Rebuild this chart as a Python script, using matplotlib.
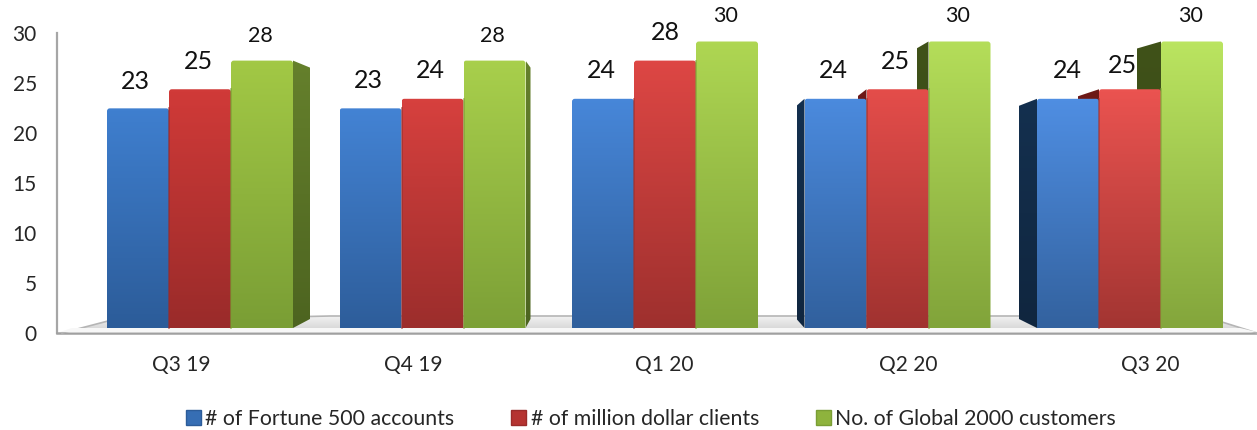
import numpy as np
import matplotlib
matplotlib.use('Agg')
from matplotlib import pyplot as plt
from matplotlib.colors import LinearSegmentedColormap, to_rgb
from matplotlib.patches import FancyBboxPatch, Polygon, Patch

plt.rcParams['font.family'] = ['Lato', 'DejaVu Sans']

# values per quarter
quarters = ['Q3 19', 'Q4 19', 'Q1 20', 'Q2 20', 'Q3 20']
fortune_500 = [23, 23, 24, 24, 24]
million_dollar = [25, 24, 28, 25, 25]
global_2000 = [28, 28, 30, 30, 30]
series_names = ['# of Fortune 500 accounts', '# of million dollar clients',
                'No. of Global 2000 customers']

W, H = 1257, 430
SX, SY = 232.5, 9.55  # pixels per group, pixels per unit
fig = plt.figure(figsize=(W / 100, H / 100), dpi=100)


# pixel position -> data position of the bar axes
def px_x(p):
    return (p - 200) / SX


def px_y(p):
    return (328 - p) / SY


# axis frame with the tick labels, behind the bars
ax_frame = fig.add_axes([57 / W, (H - 333) / H, 1 - 57 / W, 300 / H])
ax_frame.set_xlim(57, W)
ax_frame.set_ylim(0, 30)
ax_frame.set_facecolor('none')
for s in ['top', 'right', 'bottom', 'left']:
    ax_frame.spines[s].set_visible(False)
ax_frame.plot([57, 57], [0, 30], color='#a6a6a6', lw=1.6, clip_on=False)
ax_frame.plot([57, W], [0, 0], color='#a0a0a0', lw=1.8, clip_on=False)
ax_frame.set_yticks(range(0, 31, 5))
ax_frame.tick_params(axis='y', length=0, pad=14.5, labelsize=15, labelcolor='#262626')
ax_frame.set_xticks([181, 413, 664, 908, 1150], quarters)
ax_frame.tick_params(axis='x', length=0, pad=16, labelsize=15, labelcolor='#262626')

# bars live in an axes that spans the whole figure
ax = fig.add_axes([0, 0, 1, 1], zorder=2)
ax.set_facecolor('none')
ax.axis('off')


def shaded(patch, x0, x1, y0, y1, top, bottom, z):
    # fill a patch with a vertical colour ramp
    ax.add_patch(patch)
    cmap = LinearSegmentedColormap.from_list('', [bottom, top])
    im = ax.imshow(np.linspace(1, 0, 64)[:, None], extent=(x0, x1, y0, y1), cmap=cmap,
                   aspect='auto', zorder=z, interpolation='bilinear')
    im.set_clip_path(patch)


# floor of the 3d box
floor_px = [(62, 333), (108, 321), (330, 316), (1020, 316), (1222, 322), (1257, 333)]
floor = Polygon([(px_x(x), px_y(y)) for x, y in floor_px], fc='none', ec='none', zorder=1)
shaded(floor, px_x(57), px_x(W), px_y(333), px_y(316), '#f2f2f2', '#cfcfcf', 1)
ax.plot([px_x(x) for x, y in floor_px], [px_y(y) for x, y in floor_px], color='#b5b5b5', lw=1.2, zorder=1.2)
ax.add_patch(Polygon([(px_x(x), px_y(y)) for x, y in
                      [(60, 332), (72, 328), (1240, 328), (1257, 332)]],
                     fc='#f7f7f7', ec='none', zorder=1.3))

bar_w = 62 / SX
offsets = [-1, 0, 1]
values = [fortune_500, million_dollar, global_2000]
# top / bottom colours of the front faces, left and right end of the row
front_cols = [[('#3f7fcf', '#2c5c99'), ('#4f8ee2', '#33629f')],
              [('#d03a38', '#9a2b2a'), ('#ea5350', '#a33532')],
              [('#a2c845', '#7a9e35'), ('#bae460', '#84a63c')]]
right_cols = ('#65802c', '#4d6420')
left_cols = [('#14304f', '#10263f'), ('#6e1a18', '#5a1412'), ('#405218', '#36461a')]
# depth of the side walls in pixels, negative means it shows on the left
depths = [[0, 0, 0, -8, -18], [0, 0, 0, -9, -21], [17, 5, 0, -12, -24]]
label_dx = [[-3, -2, -2, -2, -1], [-2, -2, 0, -2, -8], [-2, -2, -1, -2, -1]]
label_dy = [[27, 28, 28, 28, 28], [28, 28, 28, 28, 24], [25, 25, 26, 26, 26]]


def mix(a, b, t):
    a, b = to_rgb(a), to_rgb(b)
    return tuple(a[i] + (b[i] - a[i]) * t for i in range(3))


# side walls first, the front faces cover them
for k in [2, 1, 0]:
    for i, v in enumerate(values[k]):
        d = depths[k][i]
        if d == 0:
            continue
        x_edge = i + offsets[k] * bar_w + np.sign(d) * bar_w / 2
        x_far = x_edge + d / SX
        drop = 7 / SY
        rise = 9 / SY
        poly = Polygon([(x_edge, 0), (x_edge, v), (x_far, v - drop), (x_far, rise)], fc='none', ec='none')
        cols = right_cols if d > 0 else left_cols[k]
        shaded(poly, min(x_edge, x_far), max(x_edge, x_far), 0, v, cols[0], cols[1], 3 + (2 - k) * 0.1)

for k in range(3):
    n = len(values[k])
    xs = np.arange(n) + offsets[k] * bar_w
    ax.bar(xs, values[k], width=bar_w, color='none', zorder=4)
    for i, v in enumerate(values[k]):
        t = i / (n - 1)
        top = mix(front_cols[k][0][0], front_cols[k][1][0], t)
        bottom = mix(front_cols[k][0][1], front_cols[k][1][1], t)
        box = FancyBboxPatch((xs[i] - bar_w / 2, -1), bar_w, v + 1, boxstyle='round,pad=0,rounding_size=0.012',
                             mutation_aspect=SX / SY, fc='none', ec='none')
        shaded(box, xs[i] - bar_w / 2, xs[i] + bar_w / 2, 0, v, top, bottom, 4 + k * 0.1)
        # dark seam between neighbouring bars
        if k > 0:
            ax.plot([xs[i] - bar_w / 2] * 2, [0, values[k - 1][i]], color=bottom, lw=1.2, alpha=0.7, zorder=5)
        big = k < 2
        ax.annotate(str(v), (xs[i], v), xytext=(label_dx[k][i] * 0.72, label_dy[k][i] * 0.72),
                    textcoords='offset points', ha='center', va='center',
                    fontsize=18 if big else 15.5, color='#111111', zorder=6)

ax.set_xlim(px_x(0), px_x(W))
ax.set_ylim(px_y(H), px_y(0))

handles = [Patch(fc=mix(c[0][0], c[0][1], 0.5), ec=c[0][1], lw=1) for c in front_cols]
fig.legend(handles, series_names, ncol=3, loc='center', bbox_to_anchor=(651 / W, 1 - 419 / H), frameon=False,
           fontsize=15.3, handlelength=0.7, handleheight=0.7, handletextpad=0.2, columnspacing=2.7,
           labelcolor='#262626')

fig.savefig('out.png', dpi=100)
